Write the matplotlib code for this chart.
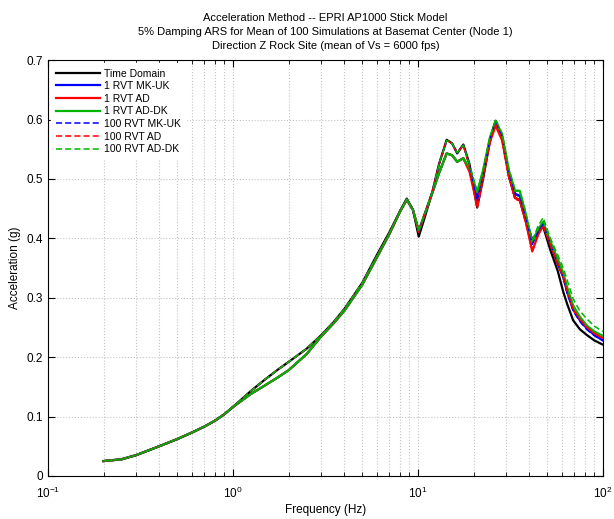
import matplotlib.pyplot as plt
import numpy as np

plt.rcParams['font.family'] = ['Liberation Sans', 'DejaVu Sans']

# frequencias comunes (Hz)
freq = [0.2, 0.25, 0.3, 0.35, 0.4, 0.5, 0.6, 0.7, 0.8, 0.9,
        1.0, 1.25, 1.5, 1.75, 2.0, 2.5, 3.0, 3.5, 4.0, 5.0,
        6.0, 7.0, 8.0, 8.7, 9.4, 10.1, 11.0, 12.0, 13.0, 14.3,
        15.3, 16.3, 17.6, 19.0, 20.9, 22.5, 24.5, 26.3, 28.5, 31.0,
        33.5, 35.5, 38.0, 41.5, 44.5, 47.5, 52.0, 57.0, 61.0, 64.0,
        69.0, 75.0, 82.0, 90.0, 100.0]

# espectros de aceleracion (g)
time_domain = [0.025, 0.028, 0.035, 0.043, 0.050, 0.062, 0.073, 0.083, 0.093, 0.104,
               0.116, 0.143, 0.163, 0.179, 0.192, 0.214, 0.237, 0.259, 0.281, 0.325,
               0.372, 0.410, 0.446, 0.467, 0.448, 0.403, 0.440, 0.480, 0.525, 0.566,
               0.560, 0.543, 0.558, 0.525, 0.452, 0.500, 0.565, 0.598, 0.570, 0.505,
               0.468, 0.465, 0.432, 0.398, 0.410, 0.420, 0.380, 0.345, 0.310, 0.290,
               0.262, 0.247, 0.237, 0.228, 0.221]

rvt1_mkuk = [0.025, 0.028, 0.035, 0.043, 0.050, 0.062, 0.073, 0.083, 0.093, 0.104,
             0.116, 0.138, 0.153, 0.166, 0.178, 0.205, 0.235, 0.257, 0.278, 0.322,
             0.368, 0.407, 0.445, 0.465, 0.448, 0.412, 0.445, 0.478, 0.510, 0.543,
             0.540, 0.529, 0.535, 0.515, 0.468, 0.510, 0.567, 0.597, 0.572, 0.510,
             0.475, 0.472, 0.440, 0.393, 0.412, 0.424, 0.390, 0.357, 0.335, 0.310,
             0.280, 0.262, 0.248, 0.237, 0.228]

rvt1_ad = [0.025, 0.028, 0.035, 0.043, 0.050, 0.062, 0.073, 0.083, 0.093, 0.104,
           0.116, 0.138, 0.153, 0.166, 0.178, 0.205, 0.235, 0.257, 0.278, 0.322,
           0.368, 0.407, 0.445, 0.465, 0.448, 0.412, 0.445, 0.478, 0.510, 0.543,
           0.540, 0.529, 0.535, 0.512, 0.455, 0.505, 0.562, 0.590, 0.565, 0.505,
           0.468, 0.465, 0.432, 0.378, 0.405, 0.422, 0.390, 0.357, 0.336, 0.312,
           0.281, 0.264, 0.250, 0.240, 0.232]

rvt1_addk = [0.025, 0.028, 0.035, 0.043, 0.050, 0.062, 0.073, 0.083, 0.093, 0.104,
             0.116, 0.138, 0.153, 0.166, 0.178, 0.205, 0.235, 0.257, 0.278, 0.322,
             0.368, 0.407, 0.445, 0.465, 0.448, 0.413, 0.445, 0.478, 0.510, 0.543,
             0.540, 0.529, 0.535, 0.518, 0.478, 0.515, 0.570, 0.598, 0.575, 0.515,
             0.480, 0.480, 0.445, 0.393, 0.415, 0.428, 0.395, 0.365, 0.342, 0.318,
             0.287, 0.268, 0.253, 0.243, 0.236]

rvt100_mkuk = [0.025, 0.028, 0.035, 0.043, 0.050, 0.062, 0.073, 0.083, 0.093, 0.104,
               0.116, 0.143, 0.163, 0.179, 0.192, 0.214, 0.237, 0.259, 0.281, 0.325,
               0.370, 0.408, 0.445, 0.466, 0.448, 0.412, 0.445, 0.480, 0.525, 0.565,
               0.560, 0.544, 0.557, 0.522, 0.462, 0.505, 0.566, 0.597, 0.572, 0.510,
               0.474, 0.470, 0.438, 0.390, 0.410, 0.424, 0.390, 0.357, 0.334, 0.308,
               0.278, 0.260, 0.246, 0.236, 0.228]

rvt100_ad = [0.025, 0.028, 0.035, 0.043, 0.050, 0.062, 0.073, 0.083, 0.093, 0.104,
             0.116, 0.143, 0.163, 0.179, 0.192, 0.214, 0.237, 0.259, 0.281, 0.325,
             0.370, 0.408, 0.445, 0.466, 0.448, 0.410, 0.445, 0.480, 0.525, 0.565,
             0.560, 0.544, 0.557, 0.520, 0.450, 0.500, 0.562, 0.592, 0.566, 0.505,
             0.466, 0.463, 0.430, 0.380, 0.405, 0.422, 0.390, 0.357, 0.336, 0.312,
             0.281, 0.264, 0.250, 0.240, 0.232]

rvt100_addk = [0.025, 0.028, 0.035, 0.043, 0.050, 0.062, 0.073, 0.083, 0.093, 0.104,
               0.116, 0.143, 0.163, 0.179, 0.192, 0.214, 0.237, 0.259, 0.281, 0.325,
               0.370, 0.408, 0.445, 0.466, 0.448, 0.414, 0.445, 0.480, 0.525, 0.565,
               0.560, 0.544, 0.557, 0.525, 0.478, 0.515, 0.570, 0.600, 0.577, 0.517,
               0.482, 0.480, 0.447, 0.396, 0.420, 0.435, 0.400, 0.372, 0.350, 0.330,
               0.298, 0.278, 0.264, 0.252, 0.243]

series = [
    ('Time Domain', time_domain, 'black', '-', 1.6),
    ('1 RVT MK-UK', rvt1_mkuk, '#0000ff', '-', 1.6),
    ('1 RVT AD', rvt1_ad, '#ff0000', '-', 1.6),
    ('1 RVT AD-DK', rvt1_addk, '#00b400', '-', 1.6),
    ('100 RVT MK-UK', rvt100_mkuk, '#0000ff', '--', 1.1),
    ('100 RVT AD', rvt100_ad, '#ff0000', '--', 1.1),
    ('100 RVT AD-DK', rvt100_addk, '#00b400', '--', 1.1),
]

fig = plt.figure(figsize=(6.14, 5.19), dpi=100)
ax = fig.add_axes([0.078, 0.083, 0.904, 0.801])

for nombre, valores, color, estilo, ancho in series:
    ax.plot(freq, valores, color=color, linestyle=estilo, linewidth=ancho,
            label=nombre, dashes=(4, 2) if estilo == '--' else (None, None),
            solid_joinstyle='round')

ax.set_xscale('log')
ax.set_xlim(0.1, 100)
ax.set_ylim(0, 0.7)
ax.set_yticks(np.arange(0, 0.71, 0.1))
ax.set_yticklabels(['0', '0.1', '0.2', '0.3', '0.4', '0.5', '0.6', '0.7'])

ax.grid(True, which='major', axis='both', linestyle=':', color='#c4c4c4', linewidth=0.8)
ax.grid(True, which='minor', axis='x', linestyle=':', color='#c4c4c4', linewidth=0.8)
ax.tick_params(which='both', direction='in', top=True, right=True, labelsize=8.5)
ax.tick_params(which='major', length=5)
ax.tick_params(which='minor', length=3)
ax.tick_params(axis='x', which='major', pad=7)
for s in ax.spines.values():
    s.set_linewidth(0.8)

ax.set_xlabel('Frequency (Hz)', fontsize=8.5, labelpad=2)
ax.set_ylabel('Acceleration (g)', fontsize=8.5)
ax.set_title('Acceleration Method -- EPRI AP1000 Stick Model\n'
             '5% Damping ARS for Mean of 100 Simulations at Basemat Center (Node 1)\n'
             'Direction Z Rock Site (mean of Vs = 6000 fps)',
             fontsize=8.0, linespacing=1.5, pad=8)

leg = ax.legend(loc='upper left', fontsize=7.5, frameon=True, handlelength=4.2,
                handletextpad=0.4, labelspacing=0.25, borderaxespad=0.3,
                borderpad=0.5)
leg.get_frame().set_edgecolor('white')
leg.get_frame().set_facecolor('white')
leg.get_frame().set_alpha(1)
leg.get_frame().set_boxstyle('square', pad=0)

plt.savefig('out.png', dpi=100)
